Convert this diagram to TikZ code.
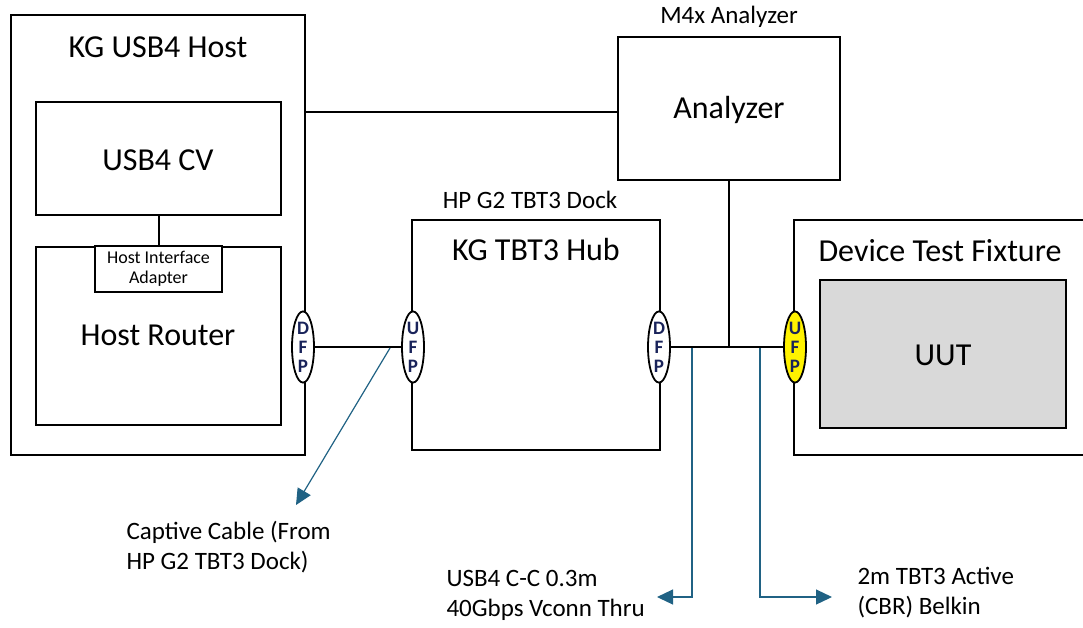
\documentclass[tikz,border=0pt]{standalone}
\usepackage{fontspec}
\setmainfont{Carlito}
\usetikzlibrary{arrows.meta,positioning}
\definecolor{cablue}{RGB}{32,98,132}
\definecolor{portblue}{RGB}{25,35,90}
\definecolor{uutgray}{RGB}{217,217,217}
\tikzset{
  px/.style={x=1pt,y=-1pt},
  box/.style={draw=black,line width=2pt,rectangle,inner sep=0pt},
  port/.style={draw=black,line width=1.8pt,ellipse,fill=white,minimum width=22pt,minimum height=70pt,inner sep=0pt,
     font=\fontsize{19}{19}\selectfont\bfseries,text=portblue,align=center},
  wire/.style={draw=black,line width=2pt},
  cable/.style={draw=cablue,line width=1.2pt},
  cablearrow/.style={cable,-{Triangle[length=16pt,width=15pt]}},
  title/.style={font=\fontsize{32}{32}\selectfont,anchor=center},
  lbl/.style={font=\fontsize{25}{30}\selectfont,align=left,anchor=west},
}
\usetikzlibrary{shapes.geometric}
\begin{document}
\begin{tikzpicture}[px]
\useasboundingbox (0,0) rectangle (1083,627);
% host
\node[box,minimum width=294pt,minimum height=440pt] (host) at (158,235) {};
\node[title] (hostt) at (158,47) {KG USB4 Host};
\node[box,minimum width=245pt,minimum height=113pt] (cv) at (158.5,158.5) {};
\node[title] (cvt) at (158,160) {USB4 CV};
\node[box,minimum width=245pt,minimum height=178pt] (hr) at (158.5,336) {};
\node[title] (hrt) at (158,335) {Host Router};
\node[box,fill=white,minimum width=127pt,minimum height=46pt,font=\fontsize{18}{20}\selectfont,align=center] (hia) at (158.5,269) {Host Interface\\Adapter};
\draw[wire] (cv.south) -- (hia.north);
% analyzer
\node[box,minimum width=222pt,minimum height=143pt] (an) at (729,108.5) {};
\node[title] (ant) at (729,110) {Analyzer};
\node[font=\fontsize{25}{25}\selectfont] (anl) at (729,17) {M4x Analyzer};
% hub
\node[box,minimum width=248pt,minimum height=230pt] (hub) at (536,335) {};
\node[title] (hubt) at (536,250) {KG TBT3 Hub};
\node[font=\fontsize{25}{25}\selectfont] (hubl) at (530,200) {HP G2 TBT3 Dock};
% fixture
\node[box,minimum width=292pt,minimum height=235pt] (dtf) at (940,337.5) {};
\node[title] (dtft) at (940,251) {Device Test Fixture};
\node[box,fill=uutgray,minimum width=246pt,minimum height=148pt] (uut) at (943,354) {};
\node[title] (uutt) at (943,355) {UUT};
% ports
\node[port] (dfp1) at (303,347) {D\\F\\P};
\node[port] (ufp1) at (413,347) {U\\F\\P};
\node[port] (dfp2) at (659,347) {D\\F\\P};
\node[port,fill=yellow] (ufp2) at (795,347) {U\\F\\P};
% wires
\coordinate (j1) at (729,348);
\draw[wire] (dfp1.east) -- (ufp1.west);
\draw[wire] (dfp2.east) -- (ufp2.west);
\draw[wire] (host.east |- 0,112) -- (an.west |- 0,112);
\draw[wire] (an.south) -- (j1);
% cables
\coordinate (c1) at (390,348);
\coordinate (c2) at (692,348);
\coordinate (c3) at (760,348);
\node[lbl] (l1) at (123,547) {Captive Cable (From\\HP G2 TBT3 Dock)};
\node[lbl] (l2) at (443,595) {USB4 C-C 0.3m\\40Gbps Vconn Thru};
\node[lbl] (l3) at (854,593) {2m TBT3 Active\\(CBR) Belkin};
\coordinate (a1) at (296,505);
\coordinate (a2) at (657,597);
\coordinate (a3) at (832,597);
\draw[cablearrow] (c1) -- (a1);
\draw[cablearrow] (c2) |- (a2);
\draw[cablearrow] (c3) |- (a3);
\end{tikzpicture}
\end{document}
